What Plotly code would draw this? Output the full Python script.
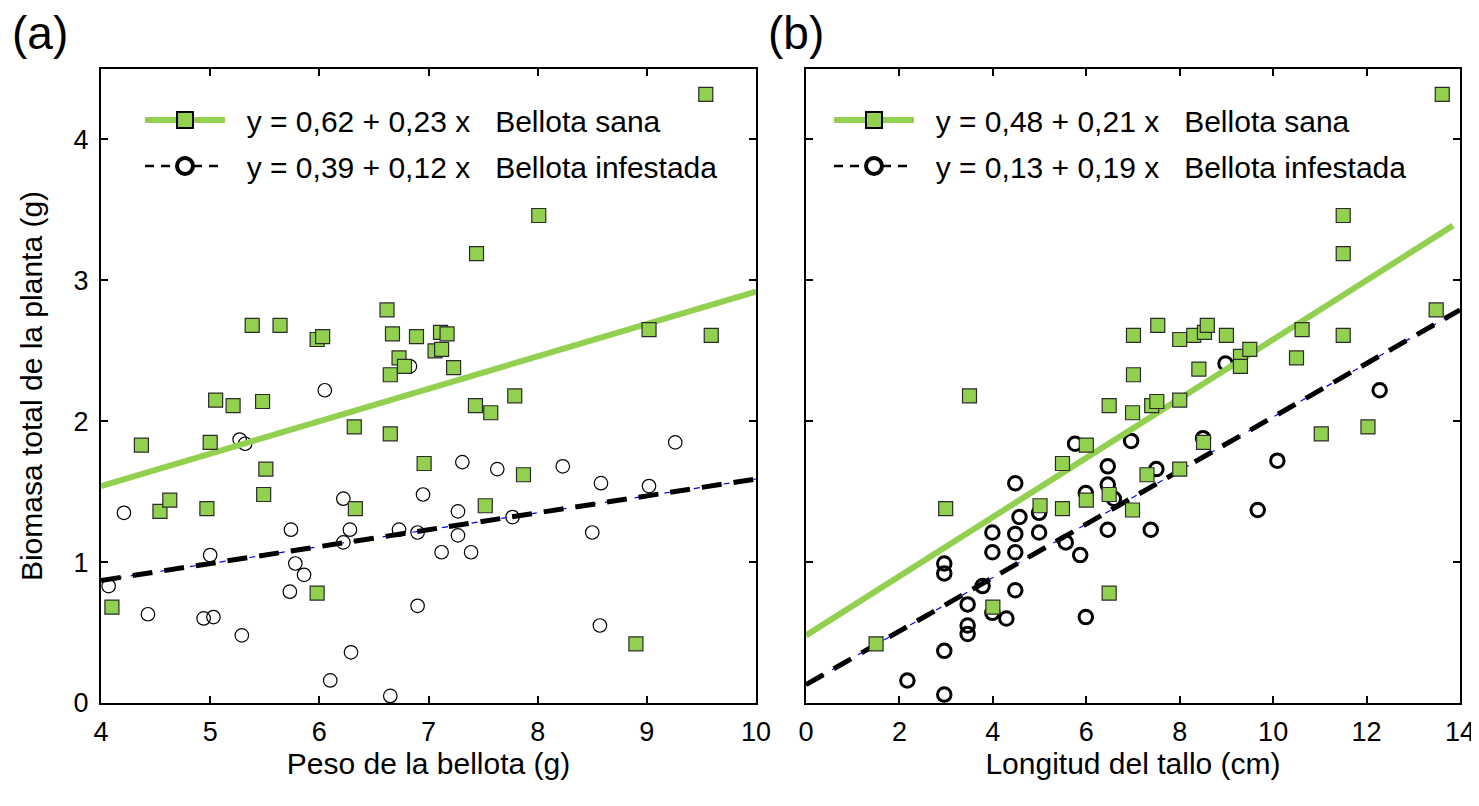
import plotly.graph_objects as go

# ---------------- Data: panel (a) – acorn weight (g) ----------------
a_sana_x = [4.10, 4.37, 4.54, 4.63, 4.97, 5.00, 5.05, 5.21, 5.385, 5.48, 5.49, 5.51,
            5.64, 5.98, 6.03, 5.98, 6.32, 6.33, 6.62, 6.67, 6.65, 6.65, 6.73, 6.78,
            6.89, 6.96, 7.06, 7.12, 7.11, 7.17, 7.23, 7.43, 7.44, 7.52, 7.57, 7.79,
            7.87, 8.01, 8.90, 9.02, 9.54, 9.59]
a_sana_y = [0.68, 1.83, 1.36, 1.44, 1.38, 1.85, 2.15, 2.11, 2.68, 2.14, 1.48, 1.66,
            2.68, 2.58, 2.60, 0.78, 1.96, 1.38, 2.79, 2.62, 1.91, 2.33, 2.45, 2.39,
            2.60, 1.70, 2.50, 2.51, 2.63, 2.62, 2.38, 2.11, 3.19, 1.40, 2.06, 2.18,
            1.62, 3.46, 0.42, 2.65, 4.32, 2.61]
a_inf_x = [4.07, 4.21, 4.43, 4.94, 5.00, 5.03, 5.27, 5.29, 5.32, 5.73, 5.74, 5.78,
           5.86, 6.05, 6.10, 6.22, 6.22, 6.28, 6.29, 6.65, 6.73, 6.83, 6.90, 6.90,
           6.95, 7.12, 7.39, 7.27, 7.27, 7.31, 7.63, 7.77, 8.23, 8.50, 8.57, 8.58,
           9.02, 9.26]
a_inf_y = [0.83, 1.35, 0.63, 0.60, 1.05, 0.61, 1.87, 0.48, 1.84, 0.79, 1.23, 0.99,
           0.91, 2.22, 0.16, 1.45, 1.14, 1.23, 0.36, 0.05, 1.23, 2.39, 1.21, 0.69,
           1.48, 1.07, 1.07, 1.36, 1.19, 1.71, 1.66, 1.32, 1.68, 1.21, 0.55, 1.56,
           1.54, 1.85]
a_fit_sana = (0.62, 0.23)
a_fit_inf = (0.39, 0.12)
a_fit_x = [4, 10]

# ---------------- Data: panel (b) – stem length (cm) ----------------
b_sana_x = [1.50, 2.99, 3.50, 4.00, 5.01, 5.49, 5.49, 6.00, 6.00, 6.49, 6.49, 6.49,
            6.99, 6.99, 7.01, 7.01, 7.30, 7.40, 7.51, 7.53, 8.00, 8.00, 8.00, 8.30,
            8.41, 8.51, 8.53, 8.59, 9.00, 9.30, 9.30, 9.50, 10.50, 10.62, 11.03, 11.50,
            11.50, 11.50, 12.03, 13.49, 13.62]
b_sana_y = [0.42, 1.38, 2.18, 0.68, 1.40, 1.70, 1.38, 1.83, 1.44, 2.11, 1.48, 0.78,
            2.06, 1.37, 2.61, 2.33, 1.62, 2.11, 2.14, 2.68, 2.58, 2.15, 1.66, 2.61,
            2.37, 1.85, 2.63, 2.68, 2.61, 2.46, 2.39, 2.51, 2.45, 2.65, 1.91, 3.46,
            3.19, 2.61, 1.96, 2.79, 4.32]
b_inf_x = [2.17, 2.96, 2.96, 2.96, 2.96, 3.46, 3.46, 3.46, 3.78, 3.99, 3.99, 3.99,
           4.29, 4.48, 4.48, 4.48, 4.48, 4.57, 4.99, 4.99, 5.56, 5.76, 5.87, 5.99,
           5.99, 6.46, 6.46, 6.46, 6.59, 6.96, 7.38, 7.50, 8.50, 8.98, 9.67, 10.09,
           12.28]
b_inf_y = [0.16, 0.06, 0.37, 0.92, 0.99, 0.49, 0.55, 0.70, 0.83, 0.64, 1.07, 1.21,
           0.60, 0.80, 1.07, 1.20, 1.56, 1.32, 1.21, 1.35, 1.14, 1.84, 1.05, 0.61,
           1.49, 1.23, 1.55, 1.68, 1.45, 1.86, 1.23, 1.66, 1.88, 2.41, 1.37, 1.72,
           2.22]
b_fit_sana = (0.48, 0.21)
b_fit_inf = (0.13, 0.19)
b_fit_x_sana = [0, 13.85]
b_fit_x_inf = [0, 14]

x_ticks_a = [4, 5, 6, 7, 8, 9, 10]
x_ticks_b = [0, 2, 4, 6, 8, 10, 12, 14]
y_ticks = [0, 1, 2, 3, 4]

leg_a = ["y = 0,62 + 0,23 x", "y = 0,39 + 0,12 x"]
leg_b = ["y = 0,48 + 0,21 x", "y = 0,13 + 0,19 x"]
groups = ["Bellota sana", "Bellota infestada"]

# ---------------- Styles ----------------
FONT = "Liberation Sans, Arial, sans-serif"
GREEN = "#92D050"
SQ_EDGE = "#2b2b2b"
NB = "\u00a0"

# page body has an 8px margin: size the figure to fit the window exactly
OFF = 8
W, H = 1479 - OFF, 806 - OFF


def px(xpix):
    return (xpix - OFF) / W


def py(ypix):
    return 1 - (ypix - OFF) / H


def fit(xs, coef):
    return [coef[0] + coef[1] * x for x in xs]


fig = go.Figure()


def add_panel(xa, ya, sx, sy, ix, iy, fs, fi, fxs, fxi, circle_lw, legend, labels):
    fig.add_trace(go.Scatter(x=ix, y=iy, mode="markers", xaxis=xa, yaxis=ya,
                             marker=dict(symbol="circle", size=13.5, color="rgba(0,0,0,0)",
                                         line=dict(color="black", width=circle_lw)),
                             showlegend=False, hoverinfo="x+y"))
    fig.add_trace(go.Scatter(x=fxi, y=fit(fxi, fi), mode="lines", xaxis=xa, yaxis=ya,
                             line=dict(color="#0000ff", width=1.2, dash="6px,9px"),
                             showlegend=False, hoverinfo="skip"))
    fig.add_trace(go.Scatter(x=fxi, y=fit(fxi, fi), mode="lines", xaxis=xa, yaxis=ya,
                             line=dict(color="black", width=5, dash="20px,12px"),
                             showlegend=False, hoverinfo="skip"))
    fig.add_trace(go.Scatter(x=fxs, y=fit(fxs, fs), mode="lines", xaxis=xa, yaxis=ya,
                             line=dict(color=GREEN, width=6),
                             showlegend=False, hoverinfo="skip"))
    fig.add_trace(go.Scatter(x=sx, y=sy, mode="markers", xaxis=xa, yaxis=ya,
                             marker=dict(symbol="square", size=14, color=GREEN,
                                         line=dict(color=SQ_EDGE, width=1.2)),
                             showlegend=False, hoverinfo="x+y"))
    fig.add_trace(go.Scatter(x=[None], y=[None], mode="lines+markers", xaxis=xa, yaxis=ya,
                             name=NB * 2 + labels[0] + NB * 3 + groups[0],
                             line=dict(color=GREEN, width=6),
                             marker=dict(symbol="square", size=16, color=GREEN,
                                         line=dict(color="black", width=2)),
                             legend=legend, legendgroup=legend + "s"))
    fig.add_trace(go.Scatter(x=[None], y=[None], mode="lines+markers", xaxis=xa, yaxis=ya,
                             name=NB * 2 + labels[1] + NB * 3 + groups[1],
                             line=dict(color="black", width=2.5, dash="9px,7px"),
                             marker=dict(symbol="circle", size=16, color="white",
                                         line=dict(color="black", width=4)),
                             legend=legend, legendgroup=legend + "i"))


add_panel("x", "y", a_sana_x, a_sana_y, a_inf_x, a_inf_y, a_fit_sana, a_fit_inf,
          a_fit_x, a_fit_x, 1.2, "legend", leg_a)
add_panel("x2", "y2", b_sana_x, b_sana_y, b_inf_x, b_inf_y, b_fit_sana, b_fit_inf,
          b_fit_x_sana, b_fit_x_inf, 3, "legend2", leg_b)

ydom = [py(703), py(69)]

axis_common = dict(showline=True, linecolor="black", linewidth=2, mirror="ticks",
                   ticks="inside", ticklen=7, tickwidth=1.5, tickcolor="black",
                   showgrid=False, zeroline=False, automargin=False,
                   tickfont=dict(family=FONT, size=27, color="black"))

legend_common = dict(xanchor="left", yanchor="top", bgcolor="rgba(0,0,0,0)",
                     font=dict(family=FONT, size=30, color="black"), itemwidth=80,
                     itemsizing="trace", tracegroupgap=4, traceorder="grouped")

fig.update_layout(
    width=W, height=H, paper_bgcolor="white", plot_bgcolor="white",
    margin=dict(l=0, r=0, t=0, b=0),
    font=dict(family=FONT, color="black"),
    xaxis=dict(domain=[px(101), px(756)], range=[4, 10], tickvals=x_ticks_a,
               ticklabelstandoff=4,
               title=dict(text="Peso de la bellota (g)", font=dict(family=FONT, size=30),
                          standoff=3),
               **axis_common),
    yaxis=dict(domain=ydom, range=[0, 4.5], tickvals=y_ticks, ticklabelstandoff=5,
               title=dict(text="Biomasa total de la planta (g)", font=dict(family=FONT, size=30),
                          standoff=22),
               **axis_common),
    xaxis2=dict(domain=[px(806), px(1460)], range=[0, 14], tickvals=x_ticks_b,
                ticklabelstandoff=4,
                title=dict(text="Longitud del tallo (cm)", font=dict(family=FONT, size=30),
                           standoff=3),
                anchor="y2", **axis_common),
    yaxis2=dict(domain=ydom, range=[0, 4.5], tickvals=y_ticks, showticklabels=False,
                anchor="x2", **axis_common),
    legend=dict(x=px(140), y=py(94), **legend_common),
    legend2=dict(x=px(829), y=py(94), **legend_common),
    annotations=[
        dict(text="(a)", x=px(10), y=py(33), xref="paper", yref="paper",
             xanchor="left", yanchor="middle", showarrow=False,
             font=dict(family=FONT, size=46, color="black")),
        dict(text="(b)", x=px(766), y=py(33), xref="paper", yref="paper",
             xanchor="left", yanchor="middle", showarrow=False,
             font=dict(family=FONT, size=46, color="black")),
    ],
)

fig.write_html("out.html")
